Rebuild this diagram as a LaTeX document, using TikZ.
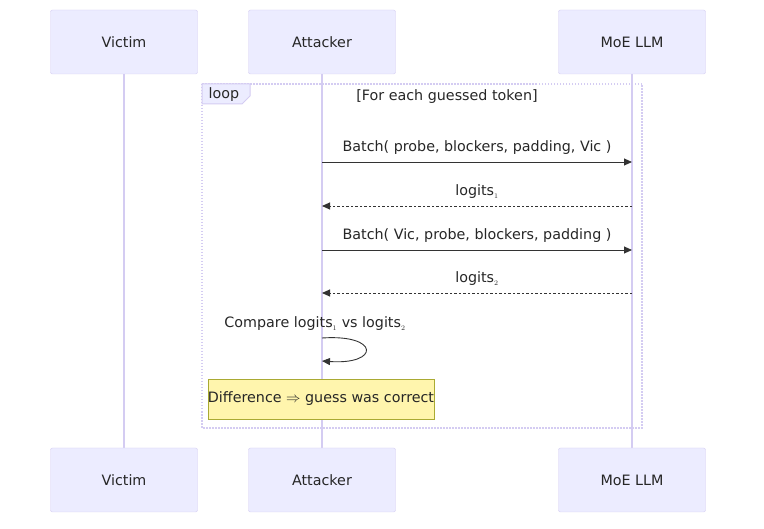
\documentclass[tikz,border=0pt]{standalone}
\usepackage{fontspec}
\setmainfont{DejaVu Sans}
\usetikzlibrary{arrows.meta}
\definecolor{actfill}{HTML}{ECECFF}
\definecolor{actline}{HTML}{D4CCF2}
\definecolor{notefill}{HTML}{FFF5AD}
\definecolor{noteline}{HTML}{AAAA33}
\tikzset{
  actor/.style={draw=actline, fill=actfill, minimum width=147pt, minimum height=64pt, rounded corners=2pt},
  life/.style={draw=actline, line width=1.5pt},
  msg/.style={-{Triangle[length=8pt,width=7pt]}, draw=black!80, line width=0.9pt},
  reply/.style={msg, dash pattern=on 2.5pt off 2pt},
  lbl/.style={font=\fontsize{14.3}{16}\selectfont, text=black!85}
}
\begin{document}
\begin{tikzpicture}[x=1pt,y=-1pt]
  \useasboundingbox (0,0) rectangle (764,529);
  % lifelines
  \draw[life] (124,74) -- (124,448);
  \draw[life] (322,74) -- (322,448);
  \draw[life] (632,74) -- (632,448);

  % loop frame
  \draw[actline, line width=1.5pt, dash pattern=on 1.5pt off 1.5pt] (202,84) rectangle (642,428);
  \draw[actline, fill=actfill, line width=1pt] (202,84) -- (250,84) -- (250,96) -- (242,104) -- (202,104) -- cycle;
  \node[lbl] (looptag) at (224,95) {loop};
  \node[lbl] (looptitle) at (447,97) {[For each guessed token]};

  % actors
  \foreach \x/\n/\t in {124/vic/Victim, 322/att/Attacker, 632/llm/MoE LLM} {
    \node[actor, lbl] (\n top) at (\x,42) {\t};
    \node[actor, lbl] (\n bot) at (\x,480) {\t};
  }

  % messages
  \coordinate (a1) at (322,162); \coordinate (m1) at (632,162);
  \coordinate (a2) at (322,206); \coordinate (m2) at (632,206);
  \coordinate (a3) at (322,250); \coordinate (m3) at (632,250);
  \coordinate (a4) at (322,293); \coordinate (m4) at (632,293);
  \draw[msg] (a1) -- (m1);
  \node[lbl] (t1) at (477,148) {Batch( probe, blockers, padding, Vic )};
  \draw[reply] (m2) -- (a2);
  \node[lbl] (t2) at (477,192) {logits$_{\scriptscriptstyle 1}$};
  \draw[msg] (a3) -- (m3);
  \node[lbl] (t3) at (477,236) {Batch( Vic, probe, blockers, padding )};
  \draw[reply] (m4) -- (a4);
  \node[lbl] (t4) at (477,279) {logits$_{\scriptscriptstyle 2}$};

  % self message
  \coordinate (s1) at (322,338); \coordinate (s2) at (322,361);
  \draw[msg] (s1) .. controls (380,334) and (380,365) .. (s2);
  \node[lbl] (t5) at (315,324) {Compare logits$_{\scriptscriptstyle 1}$ vs logits$_{\scriptscriptstyle 2}$};

  % note
  \node[draw=noteline, fill=notefill, lbl, minimum width=222pt, minimum height=40pt, inner sep=0pt] (note) at (321,399) {Difference $\Rightarrow$ guess was correct};
\end{tikzpicture}
\end{document}
